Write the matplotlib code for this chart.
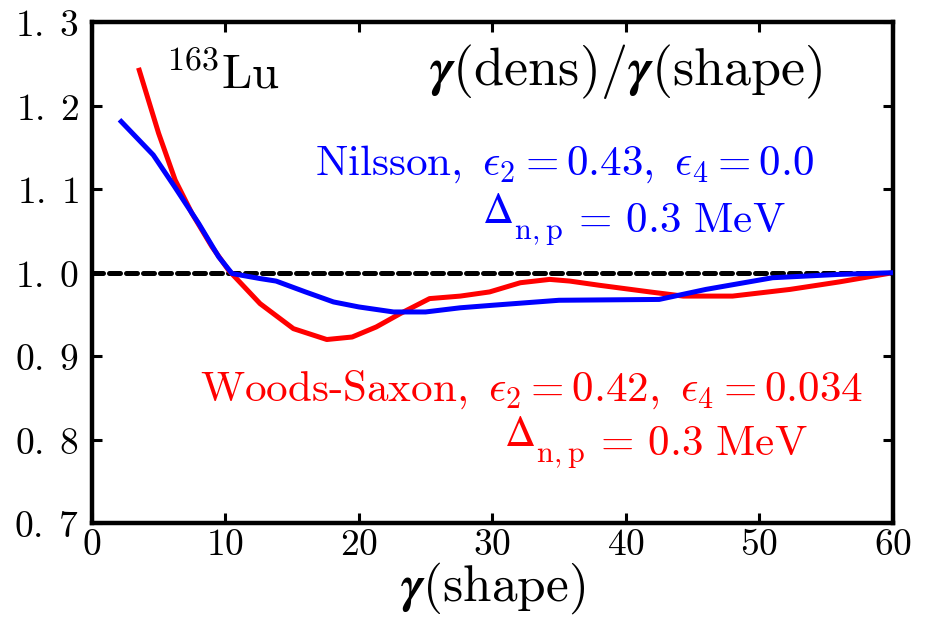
import numpy as np
import matplotlib
matplotlib.use('Agg')
import matplotlib.pyplot as plt

plt.rcParams['mathtext.fontset'] = 'cm'
plt.rcParams['font.family'] = ['DejaVu Serif']

# Nilsson (blue)
blue_x = [2.2, 4.6, 6.2, 8.0, 9.5, 10.5, 12.6, 13.8, 16.0, 18.1, 20.0, 22.6, 25.0,
          27.6, 30.0, 35.0, 42.5, 46.0, 51.0, 56.0, 60.0]
blue_y = [1.181, 1.141, 1.103, 1.059, 1.019, 0.999, 0.993, 0.990, 0.977, 0.965, 0.959,
          0.953, 0.953, 0.958, 0.961, 0.967, 0.968, 0.980, 0.994, 0.998, 1.000]

# Woods-Saxon (red)
red_x = [3.55, 5.0, 6.24, 7.5, 9.0, 10.24, 12.6, 15.1, 17.6, 19.5, 21.3, 23.1, 25.3,
         27.6, 29.8, 32.1, 34.3, 35.8, 38.0, 41.8, 44.3, 48.0, 52.3, 56.0, 60.0]
red_y = [1.2425, 1.167, 1.111, 1.071, 1.031, 1.003, 0.963, 0.933, 0.920, 0.923, 0.935,
         0.951, 0.969, 0.972, 0.977, 0.988, 0.992, 0.990, 0.985, 0.977, 0.972, 0.972,
         0.980, 0.989, 1.000]

xticks = [0, 10, 20, 30, 40, 50, 60]
yticks = [0.7, 0.8, 0.9, 1.0, 1.1, 1.2, 1.3]
ytick_labels = [r'$0.\;7$', r'$0.\;8$', r'$0.\;9$', r'$1.\;0$', r'$1.\;1$', r'$1.\;2$', r'$1.\;3$']

fig = plt.figure(figsize=(9.28, 6.17), dpi=100)
ax = fig.add_axes([0.099, 0.152, 0.863, 0.812])

ax.axhline(1.0, color='black', lw=3.6, dashes=(2.2, 1.2), dash_capstyle='round', zorder=1)
ax.plot(red_x, red_y, color='#ff0000', lw=3.6, zorder=2)
ax.plot(blue_x, blue_y, color='#0000ff', lw=3.6, zorder=3)

ax.set_xlim(0, 60)
ax.set_ylim(0.7, 1.3)
ax.set_xticks(xticks)
ax.set_xticklabels([rf'${v}$' for v in xticks])
ax.set_yticks(yticks)
ax.set_yticklabels(ytick_labels)
ax.tick_params(direction='in', length=7, width=2.2, labelsize=27,
               top=True, right=True)
ax.tick_params(axis='x', pad=3)
ax.tick_params(axis='y', pad=9)
for sp in ax.spines.values():
    sp.set_linewidth(3.2)

ax.set_xlabel(r'$\boldsymbol{\gamma}\mathrm{(shape)}$', fontsize=37, labelpad=-2)

ax.text(5.47, 1.221, r'$^{163}\mathrm{Lu}$', fontsize=35, ha='left', va='baseline')
ax.text(54.7, 1.225, r'$\boldsymbol{\gamma}\mathrm{(dens)/}\boldsymbol{\gamma}\mathrm{(shape)}$',
        fontsize=39, ha='right', va='baseline')


def delta_line(x, y, color):
    # italic Delta from STIX, the rest in Computer Modern right after it
    d = ax.text(x, y, r'$\mathit{\Delta}$', math_fontfamily='stix', fontsize=31,
                color=color, ha='left', va='baseline')
    ax.annotate(r'$_{\mathrm{n,p}}\,=\,0.3\ \mathrm{MeV}$', xy=(1.0, 0.0), xycoords=d,
                xytext=(0, 0), textcoords='offset points', fontsize=31, color=color,
                ha='left', va='baseline')


ax.text(16.7, 1.117, r'$\mathrm{Nilsson,}\ \epsilon_2=0.43,\ \epsilon_4=0.0$',
        fontsize=31, color='#0000ff', ha='left', va='baseline')
delta_line(29.2, 1.059, '#0000ff')
ax.text(8.09, 0.847, r'$\mathrm{Woods\text{-}Saxon,}\ \epsilon_2=0.42,\ \epsilon_4=0.034$',
        fontsize=31, color='#ff0000', ha='left', va='baseline')
delta_line(30.9, 0.792, '#ff0000')

fig.savefig('out.png', dpi=100)
